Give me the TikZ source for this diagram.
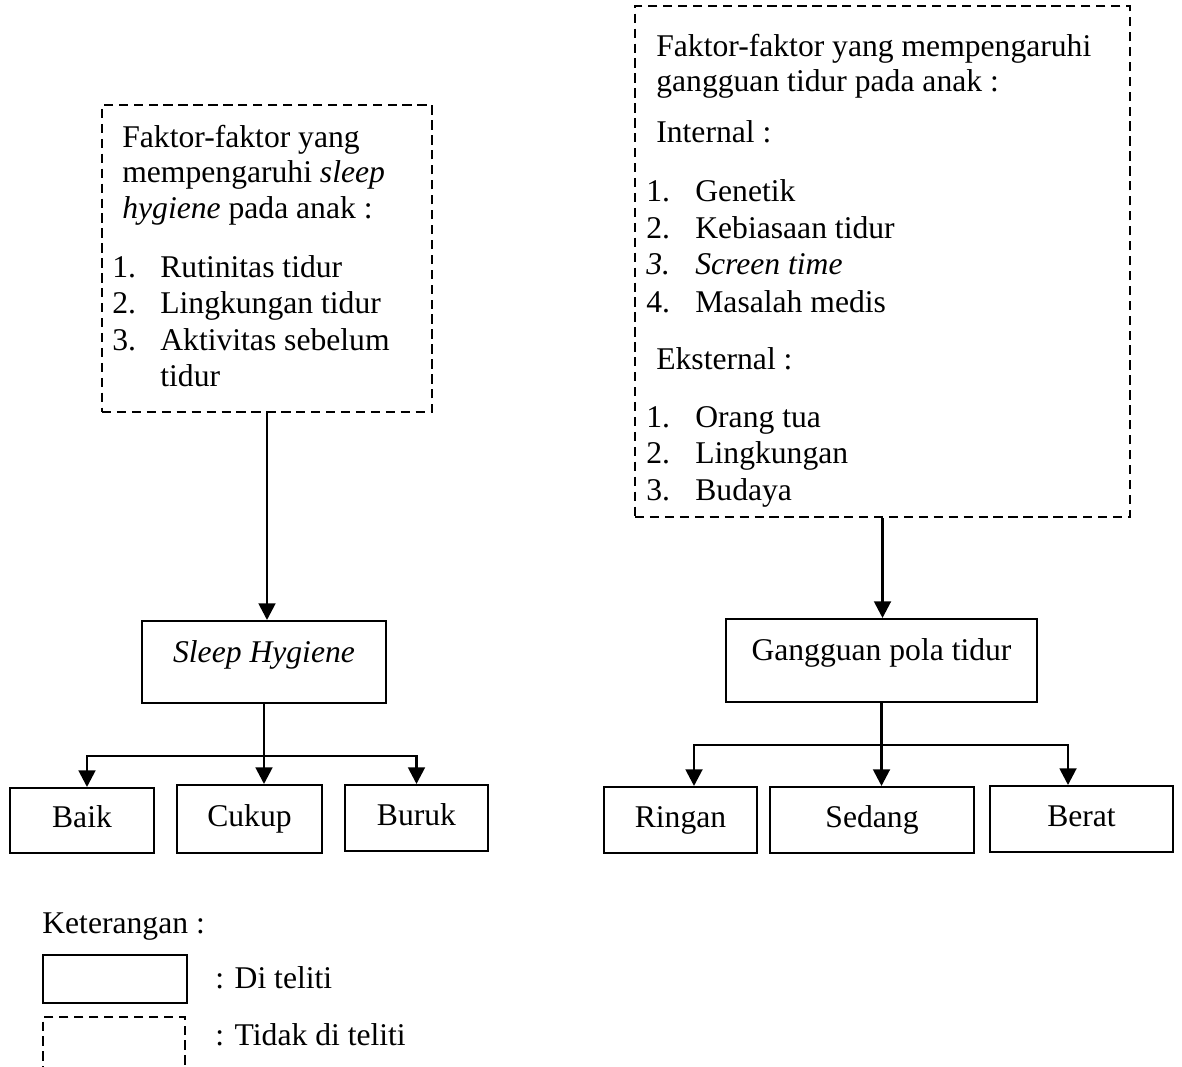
\documentclass[tikz,border=0pt]{standalone}
\usepackage{fontspec}
\setmainfont{Liberation Serif}
\usepackage{tikz}
\usetikzlibrary{arrows.meta,positioning}

\begin{document}
\begin{tikzpicture}[x=0.02cm,y=-0.02cm,>={Triangle[length=9.5pt,width=9.5pt]},font=\fontsize{18}{21}\selectfont]
 \tikzstyle{kotak}=[draw,line width=1.15pt,inner sep=0pt,text height=12pt,text depth=4pt]
 \tikzstyle{putus}=[draw,line width=1.5pt,dash pattern=on 5.3pt off 3.2pt,inner sep=0pt]
 \tikzstyle{teks}=[anchor=base west,inner sep=0pt]
 \tikzstyle{panah}=[->,line width=1.6pt]

   \useasboundingbox (0,0) rectangle (1182,1066);

   % kotak faktor (tidak di teliti)
   \node[putus,minimum width=6.6cm,minimum height=6.14cm] (fsh) at (267,258.5) {};
   \node[putus,minimum width=9.9cm,minimum height=10.22cm] (fgt) at (882.5,261.5) {};

   \node[teks] (fsh1) at (122,147) {Faktor-faktor yang};
   \node[teks] (fsh2) at (122,182) {mempengaruhi \textit{sleep}};
   \node[teks] (fsh3) at (122,218) {\textit{hygiene} pada anak :};
   \node[teks] (nsh1) at (112,277) {1.};
   \node[teks] (nsh2) at (112,313) {2.};
   \node[teks] (nsh3) at (112,350) {3.};
   \node[teks] (ish1) at (160,277) {Rutinitas tidur};
   \node[teks] (ish2) at (160,313) {Lingkungan tidur};
   \node[teks] (ish3) at (160,350) {Aktivitas sebelum};
   \node[teks] (ish4) at (160,386) {tidur};

   \node[teks] (fgt1) at (656,56) {Faktor-faktor yang mempengaruhi};
   \node[teks] (fgt2) at (656,91) {gangguan tidur pada anak :};
   \node[teks] (intern) at (656,142) {Internal :};
   \node[teks] (nin1) at (646,201) {1.};
   \node[teks] (nin2) at (646,238) {2.};
   \node[teks] (nin3) at (646,274) {\textit{3.}};
   \node[teks] (nin4) at (646,312) {4.};
   \node[teks] (iin1) at (695,201) {Genetik};
   \node[teks] (iin2) at (695,238) {Kebiasaan tidur};
   \node[teks] (iin3) at (695,274) {\textit{Screen time}};
   \node[teks] (iin4) at (695,312) {Masalah medis};
   \node[teks] (ekstern) at (656,369) {Eksternal :};
   \node[teks] (nek1) at (646,427) {1.};
   \node[teks] (nek2) at (646,463) {2.};
   \node[teks] (nek3) at (646,500) {3.};
   \node[teks] (iek1) at (695,427) {Orang tua};
   \node[teks] (iek2) at (695,463) {Lingkungan};
   \node[teks] (iek3) at (695,500) {Budaya};

   % kotak yang di teliti
   \node[kotak,minimum width=4.88cm,text height=0.82cm,text depth=0.82cm] (sh) at (264,662) {\textit{Sleep Hygiene}};
   \node[kotak,minimum width=6.22cm,text height=0.83cm,text depth=0.83cm] (gpt) at (881.5,660.5) {Gangguan pola tidur};

   \node[kotak,minimum width=2.88cm,minimum height=1.3cm] (baik) at (82,820.5) {Baik};
   \node[kotak,minimum width=2.9cm,minimum height=1.36cm] (cukup) at (249.5,819) {Cukup};
   \node[kotak,minimum width=2.86cm,minimum height=1.32cm] (buruk) at (416.5,818) {Buruk};
   \node[kotak,minimum width=3.06cm,minimum height=1.32cm] (ringan) at (680.5,820) {Ringan};
   \node[kotak,minimum width=4.08cm,minimum height=1.32cm] (sedang) at (872,820) {Sedang};
   \node[kotak,minimum width=3.66cm,minimum height=1.32cm] (berat) at (1081.5,819) {Berat};

   \coordinate (cabangSH) at (264,756);
   \coordinate (cabangGT) at (881.5,745);

   \draw[panah] (fsh.south) -- (fsh.south |- sh.north);
   \draw[panah] (fgt.south) -- (fgt.south |- gpt.north);

   \draw[panah] (sh.south) -- (sh.south |- cukup.north);
   \draw[panah] (cabangSH) -| ([xshift=0.1cm]baik.north);
   \draw[panah] (cabangSH) -| (buruk.north);

   \draw[panah] (gpt.south) -- (gpt.south |- sedang.north);
   \draw[panah] (cabangGT) -| ([xshift=0.27cm]ringan.north);
   \draw[panah] (cabangGT) -| ([xshift=-0.27cm]berat.north);

   % keterangan
   \node[teks] (ket) at (42,933) {Keterangan :};
   \node[kotak,minimum width=2.88cm,minimum height=0.96cm] (ketkotak) at (115,979) {};
   \node[teks] (ketdi) at (215,988) {: Di teliti};
   \node[putus,minimum width=2.84cm,minimum height=1.4cm] (ketputus) at (114,1052) {};
   \node[teks] (kettidak) at (215,1045) {: Tidak di teliti};

\end{tikzpicture}
\end{document}
